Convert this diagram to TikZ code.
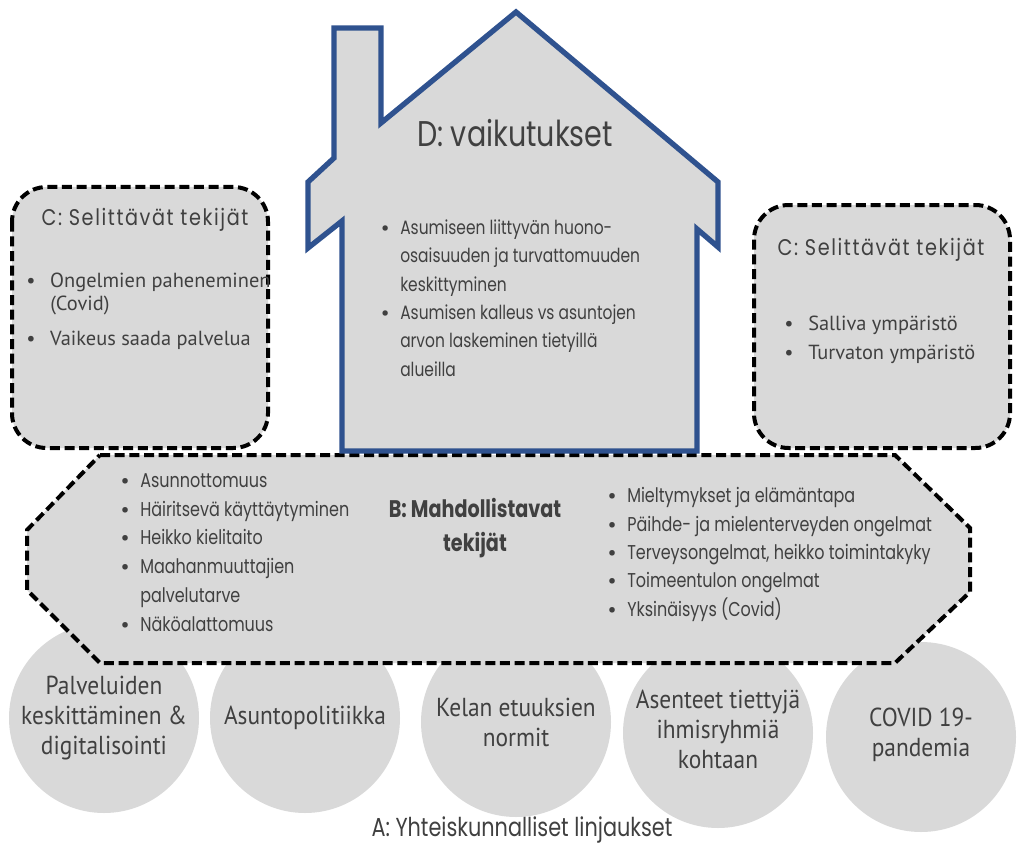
\documentclass[tikz,border=0pt]{standalone}
\usepackage{fontspec}
\setmainfont{PT Sans}
\newfontfamily\geo[FakeStretch=0.8]{Poppins}
\newfontfamily\geoC[FakeStretch=0.85,LetterSpace=7]{Poppins}
\newfontfamily\hum{PT Sans}
\newfontfamily\humC[FakeStretch=0.9]{PT Sans}
\definecolor{txt}{HTML}{404040}
\definecolor{boxfill}{HTML}{D9D9D9}
\definecolor{house}{HTML}{2F528F}
\newcommand{\bul}{\makebox[0pt][r]{{\hum\textbullet}\hspace{8pt}}}
\newcommand{\bulw}{\makebox[0pt][r]{{\hum\textbullet}\hspace{11pt}}}
\begin{document}
\begin{tikzpicture}[x=0.75pt,y=-0.75pt,
  every node/.style={inner sep=0pt,text=txt},
  circ/.style={fill=boxfill,draw=none},
  dashbox/.style={fill=boxfill,draw=black,line width=3pt,dash pattern=on 7.5pt off 3.5pt},
  housebox/.style={fill=boxfill,draw=house,line width=4pt,line join=miter},
  ctext/.style={align=center,font=\humC\fontsize{19.5}{22.5}\selectfont},
  geobul/.style={anchor=west,font=\geo\fontsize{15}{21}\selectfont,text height=10pt,text depth=3pt},
  housebul/.style={anchor=west,font=\geo\fontsize{14.5}{21}\selectfont,text height=10pt,text depth=3pt},
  humbul/.style={anchor=west,font=\hum\fontsize{15.3}{19}\selectfont,text height=11pt,text depth=3pt},
  ctitle/.style={font=\geoC\fontsize{17}{20}\selectfont}]
\useasboundingbox (0,0) rectangle (1017,845);
% A: circles
\fill[circ] (104,718) circle (95);
\fill[circ] (305,718) circle (95);
\fill[circ] (516,722) circle (95);
\fill[circ] (718,733) circle (95);
\fill[circ] (921,737) circle (95);
% B: octagon
\draw[dashbox] (100,455) -- (895,455) -- (970,528) -- (970,592) -- (895,663) -- (100,663) -- (27,590) -- (27,530) -- cycle;
% C boxes
\draw[dashbox,rounded corners=26pt] (12,187) rectangle (268,448);
\draw[dashbox,rounded corners=26pt] (754,205) rectangle (1010,448);
% D house
\draw[housebox] (334,28) -- (381,28) -- (381,123) -- (516,12) -- (718,182) -- (718,247) -- (697,229) -- (697,451) -- (342,451) -- (342,221) -- (308,248) -- (308,182) -- (334,158) -- cycle;

% texts D
\node[font=\geo\fontsize{26.8}{30}\selectfont] (dtitle) at (515,133) {D: vaikutukset};
\node[housebul] (d1) at (400,230) {\bul Asumiseen liittyvän huono-};
\node[housebul] (d2) at (400,258) {osaisuuden ja turvattomuuden};
\node[housebul] (d3) at (400,287) {keskittyminen};
\node[housebul] (d4) at (400,315) {\bul Asumisen kalleus vs asuntojen};
\node[housebul] (d5) at (400,343) {arvon laskeminen tietyillä};
\node[housebul] (d6) at (400,372) {alueilla};

% C left
\node[ctitle] (cl) at (145,220) {C: Selittävät tekijät};
\node[humbul] (cl1) at (50,282) {\bulw Ongelmien paheneminen};
\node[humbul] (cl2) at (50,305) {(Covid)};
\node[humbul] (cl3) at (50,340) {\bulw Vaikeus saada palvelua};
% C right
\node[ctitle] (cr) at (881,250) {C: Selittävät tekijät};
\node[humbul] (cr1) at (808,325) {\bulw Salliva ympäristö};
\node[humbul] (cr2) at (808,354) {\bulw Turvaton ympäristö};

% B
\node[font=\geo\bfseries\fontsize{18}{25}\selectfont,align=center] (btitle) at (475,528) {B: Mahdollistavat\\tekijät};
\node[geobul] (b1) at (140,483) {\bul Asunnottomuus};
\node[geobul] (b2) at (140,512) {\bul Häiritsevä käyttäytyminen};
\node[geobul] (b3) at (140,540) {\bul Heikko kielitaito};
\node[geobul] (b4) at (140,569) {\bul Maahanmuuttajien};
\node[geobul] (b5) at (140,598) {palvelutarve};
\node[geobul] (b6) at (140,627) {\bul Näköalattomuus};
\node[geobul] (b7) at (627,498) {\bul Mieltymykset ja elämäntapa};
\node[geobul] (b8) at (627,527) {\bul Päihde- ja mielenterveyden ongelmat};
\node[geobul] (b9) at (627,555) {\bul Terveysongelmat, heikko toimintakyky};
\node[geobul] (b10) at (627,583) {\bul Toimeentulon ongelmat};
\node[geobul] (b11) at (627,612) {\bul Yksinäisyys (Covid)};

% A circle texts
\node[ctext] (a1) at (104,718) {Palveluiden\\keskittäminen \&\\digitalisointi};
\node[ctext] (a2) at (305,718) {Asuntopolitiikka};
\node[ctext] (a3) at (516,722) {Kelan etuuksien\\normit};
\node[ctext] (a4) at (718,729) {Asenteet tiettyjä\\ihmisryhmiä\\kohtaan};
\node[ctext] (a5) at (921,735) {COVID 19-\\pandemia};
\node[font=\geo\fontsize{19.5}{22}\selectfont] (alabel) at (522,830) {A: Yhteiskunnalliset linjaukset};
\end{tikzpicture}
\end{document}
